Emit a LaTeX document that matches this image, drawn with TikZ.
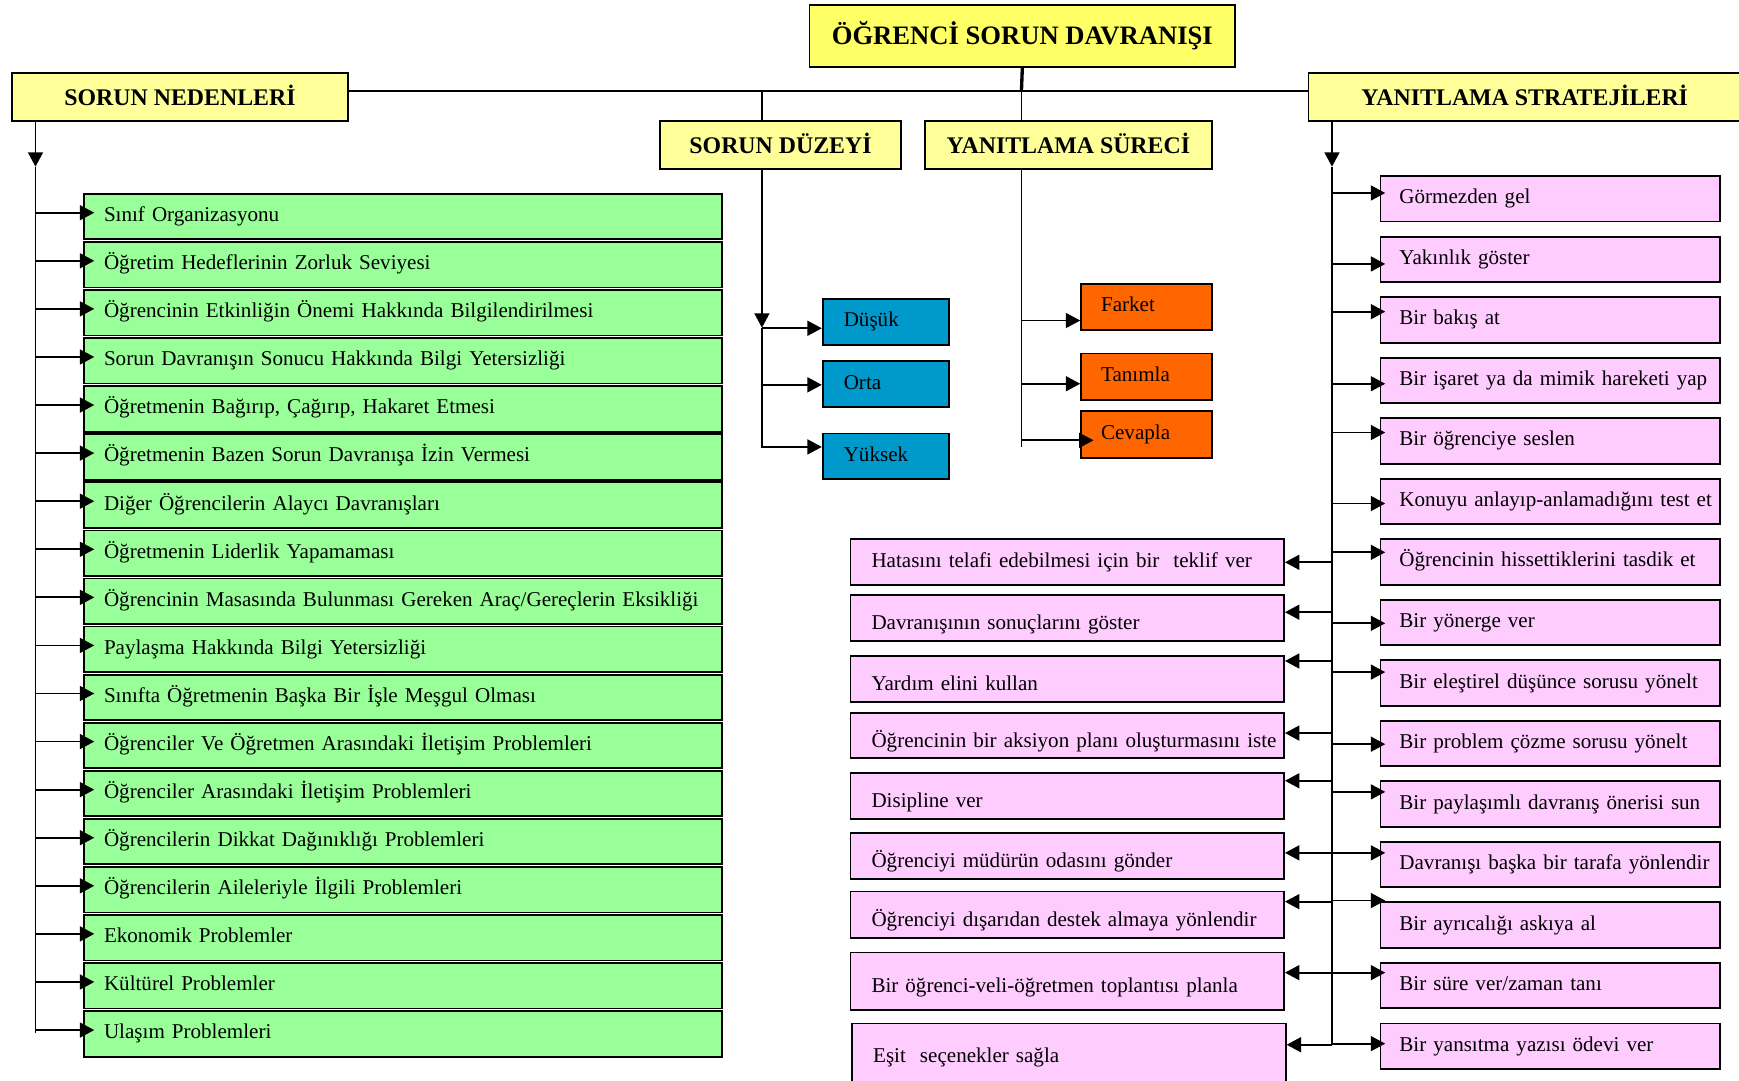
\documentclass[tikz,border=0pt]{standalone}
\usepackage{fontspec}
\setmainfont{Liberation Serif}
\usetikzlibrary{arrows.meta,positioning}

\definecolor{titleyellow}{HTML}{FFFF66}
\definecolor{headyellow}{HTML}{FFFF99}
\definecolor{causegreen}{HTML}{99FF99}
\definecolor{stratpink}{HTML}{FFCCFF}
\definecolor{levelblue}{HTML}{0099CC}
\definecolor{stageorange}{HTML}{FF6600}

\begin{document}
\begin{tikzpicture}[
    x=1pt, y=-1pt,
    >={Triangle[length=13pt,width=13.5pt]},
    line width=1.6pt,
    font=\fontsize{19}{22}\selectfont,
    head/.style={draw, fill=headyellow, font=\fontsize{21.5}{24}\selectfont\bfseries, minimum height=43.5pt, inner sep=0pt, text height=15pt, text depth=0pt, anchor=north west},
    item/.style={draw, minimum height=41pt, inner ysep=0pt, text height=13pt, text depth=4pt, align=left, anchor=north west,
        execute at begin node={\hbox\bgroup}, execute at end node={\egroup}},
    cause/.style={item, fill=causegreen, inner xsep=18pt, text width=539pt},
    strat/.style={item, fill=stratpink, inner xsep=17pt, text width=272pt},
    resp/.style={item, fill=stratpink, inner xsep=19pt, text width=353pt, text height=25pt},
    lvl/.style={item, fill=levelblue, inner xsep=19pt, text width=76pt},
    stage/.style={item, fill=stageorange, inner xsep=18pt, text width=82pt, minimum height=42pt}
]
\useasboundingbox (0,0) rectangle (1568,974);

% headers
\node[head, fill=titleyellow, font=\fontsize{24}{27}\selectfont\bfseries, minimum width=384pt, minimum height=55.5pt, text height=16pt] (top) at (729,4) {ÖĞRENCİ SORUN DAVRANIŞI};
\node[head, minimum width=303pt] (causes) at (10,65) {SORUN NEDENLERİ};
\node[head, minimum width=390pt] (strats) at (1179,65) {YANITLAMA STRATEJİLERİ};
\node[head, minimum width=217pt] (level) at (594.5,108) {SORUN DÜZEYİ};
\node[head, minimum width=259pt] (process) at (833,108) {YANITLAMA SÜRECİ};

% problem causes
\node[cause] (c1) at (75,174) {Sınıf Organizasyonu};
\node[cause, below=0.75pt of c1] (c2) {Öğretim Hedeflerinin Zorluk Seviyesi};
\node[cause, below=0.75pt of c2] (c3) {Öğrencinin Etkinliğin Önemi Hakkında Bilgilendirilmesi};
\node[cause, below=0.75pt of c3] (c4) {Sorun Davranışın Sonucu Hakkında Bilgi Yetersizliği};
\node[cause, below=0.75pt of c4] (c5) {Öğretmenin Bağırıp, Çağırıp, Hakaret Etmesi};
\node[cause, below=0.75pt of c5] (c6) {Öğretmenin Bazen Sorun Davranışa İzin Vermesi};
\node[cause, below=0.75pt of c6] (c7) {Diğer Öğrencilerin Alaycı Davranışları};
\node[cause, below=0.75pt of c7] (c8) {Öğretmenin Liderlik Yapamaması};
\node[cause, below=0.75pt of c8] (c9) {Öğrencinin Masasında Bulunması Gereken Araç/Gereçlerin Eksikliği};
\node[cause, below=0.75pt of c9] (c10) {Paylaşma Hakkında Bilgi Yetersizliği};
\node[cause, below=0.75pt of c10] (c11) {Sınıfta Öğretmenin Başka Bir İşle Meşgul Olması};
\node[cause, below=0.75pt of c11] (c12) {Öğrenciler Ve Öğretmen Arasındaki İletişim Problemleri};
\node[cause, below=0.75pt of c12] (c13) {Öğrenciler Arasındaki İletişim Problemleri};
\node[cause, below=0.75pt of c13] (c14) {Öğrencilerin Dikkat Dağınıklığı Problemleri};
\node[cause, below=0.75pt of c14] (c15) {Öğrencilerin Aileleriyle İlgili Problemleri};
\node[cause, below=0.75pt of c15] (c16) {Ekonomik Problemler};
\node[cause, below=0.75pt of c16] (c17) {Kültürel Problemler};
\node[cause, below=0.75pt of c17] (c18) {Ulaşım Problemleri};

% problem level
\node[lvl] (l1) at (741,269) {Düşük};
\node[lvl] (l2) at (741,325) {Orta};
\node[lvl] (l3) at (741,390) {Yüksek};

% response process
\node[stage] (p1) at (974,255) {Farket};
\node[stage] (p2) at (974,318) {Tanımla};
\node[stage] (p3) at (974,370) {Cevapla};

% response strategies
\node[strat] (s1) at (1244,158) {Görmezden gel};
\node[strat, below=11.97pt of s1] (s2) {Yakınlık göster};
\node[strat, below=11.97pt of s2] (s3) {Bir bakış at};
\node[strat, below=11.97pt of s3] (s4) {Bir işaret ya da mimik hareketi yap};
\node[strat, below=11.97pt of s4] (s5) {Bir öğrenciye seslen};
\node[strat, below=11.97pt of s5] (s6) {Konuyu anlayıp-anlamadığını test et};
\node[strat, below=11.97pt of s6] (s7) {Öğrencinin hissettiklerini tasdik et};
\node[strat, below=11.97pt of s7] (s8) {Bir yönerge ver};
\node[strat, below=11.97pt of s8] (s9) {Bir eleştirel düşünce sorusu yönelt};
\node[strat, below=11.97pt of s9] (s10) {Bir problem çözme sorusu yönelt};
\node[strat, below=11.97pt of s10] (s11) {Bir paylaşımlı davranış önerisi sun};
\node[strat, below=11.97pt of s11] (s12) {Davranışı başka bir tarafa yönlendir};
\node[strat, below=11.97pt of s12] (s13) {Bir ayrıcalığı askıya al};
\node[strat, below=11.97pt of s13] (s14) {Bir süre ver/zaman tanı};
\node[strat, below=11.97pt of s14] (s15) {Bir yansıtma yazısı ödevi ver};

\node[resp, minimum height=42pt, text height=13pt] (m1) at (766,485) {Hatasını telafi edebilmesi için bir~ teklif ver};
\node[resp] (m2) at (766,536) {Davranışının sonuçlarını göster};
\node[resp] (m3) at (766,591) {Yardım elini kullan};
\node[resp] (m4) at (766,642) {Öğrencinin bir aksiyon planı oluşturmasını iste};
\node[resp, minimum height=42pt] (m5) at (766,696) {Disipline ver};
\node[resp, minimum height=42pt] (m6) at (766,750) {Öğrenciyi müdürün odasını gönder};
\node[resp, minimum height=42pt] (m7) at (766,803) {Öğrenciyi dışarıdan destek almaya yönlendir};
\node[resp, minimum height=52pt] (m8) at (766,858) {Bir öğrenci-veli-öğretmen toplantısı planla};
\node[resp, minimum height=54pt, text height=21pt] (m9) at (767.5,922) {Eşit~ seçenekler sağla};

% top connectors
\coordinate (hub) at (921,82);
\coordinate (lvlx) at (687,82);
\draw[line width=3pt] (top.south) -- (hub);
\draw (causes.east |- hub) -- (strats.west |- hub);
\draw (lvlx) -- (lvlx |- level.north);
\draw (hub) -- (hub |- process.north);

% causes trunk
\coordinate (ctop) at (32,108.5);
\coordinate (ctip) at (32,150.3);
\coordinate (cend) at (32,931.5);
\draw[->] (ctop) -- (ctip);
\draw (ctip) -- (cend);
\foreach \i in {1,...,18} {
    \coordinate (ca\i) at ([yshift=3.5pt]c\i.west);
    \draw[->, shorten >=-10pt] (ca\i -| ctop) -- (ca\i);
}

% level trunk
\coordinate (lvltip) at (687,295.5);
\coordinate (lvlend) at (687,404);
\draw[->] (lvlx |- level.south) -- (lvltip);
\draw (lvltip) -- (lvlend);
\foreach \i/\ay in {1/296, 2/347, 3/403} {
    \coordinate (la\i) at (687,\ay);
    \draw[->] (la\i) -- (la\i -| l\i.west);
}

% process trunk
\coordinate (procend) at (921,403);
\draw (hub |- process.south) -- (procend);
\foreach \i/\ay/\ov in {1/289/0pt, 2/346/0pt, 3/397/12pt} {
    \coordinate (pa\i) at (921,\ay);
    \draw[->, shorten >=-\ov] (pa\i) -- (pa\i -| p\i.west);
}

% strategies trunk
\coordinate (stop) at (1201,108.5);
\coordinate (stip) at (1201,150.3);
\coordinate (send) at (1201,942);
\draw[->] (stop) -- (stip);
\draw (stip) -- (send);
\foreach \i/\ay in {1/174, 2/238, 3/281, 4/346, 5/390, 6/454, 7/498, 8/562, 9/606, 10/671, 11/714, 12/769, 13/812, 14/877, 15/941} {
    \coordinate (sa\i) at (1201,\ay);
    \draw[->, shorten >=-5pt] (sa\i) -- (sa\i -| s\i.west);
}
\foreach \i/\ay in {1/507, 2/552, 3/596, 4/661, 5/704, 6/769, 7/813, 8/877, 9/942} {
    \coordinate (ma\i) at (1201,\ay);
    \draw[->] (ma\i) -- (ma\i -| m\i.east);
}
\end{tikzpicture}
\end{document}
